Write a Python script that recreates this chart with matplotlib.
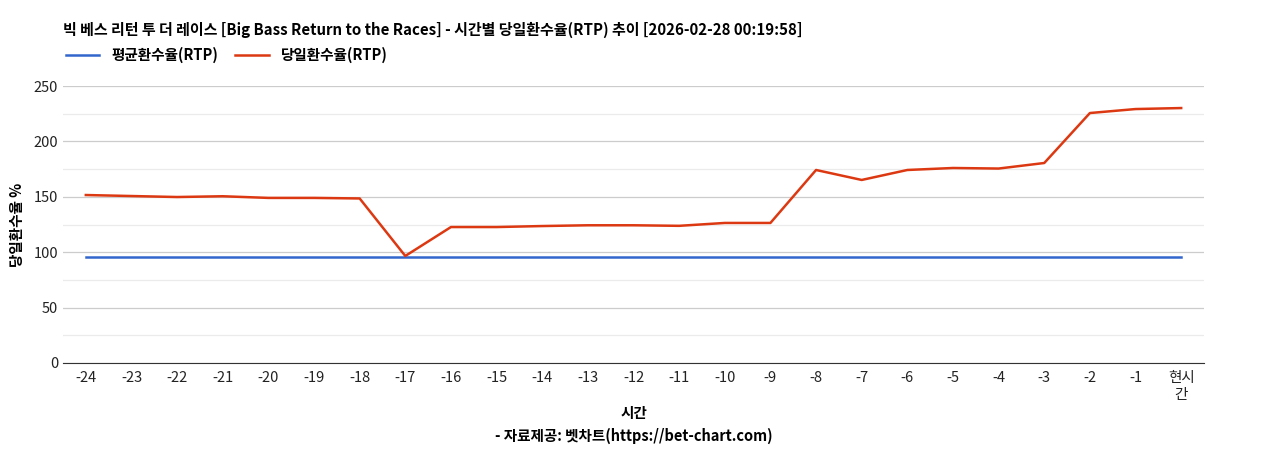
import matplotlib
matplotlib.use("Agg")
import matplotlib.pyplot as plt
from matplotlib.ticker import MultipleLocator

plt.rcParams['font.family'] = ['Noto Sans CJK KR', 'DejaVu Sans']

TITLE = "빅 베스 리턴 투 더 레이스 [Big Bass Return to the Races] - 시간별 당일환수율(RTP) 추이 [2026-02-28 00:19:58]"
hours = ["-24", "-23", "-22", "-21", "-20", "-19", "-18", "-17", "-16", "-15", "-14", "-13",
         "-12", "-11", "-10", "-9", "-8", "-7", "-6", "-5", "-4", "-3", "-2", "-1", "현시\n간"]
avg_rtp = [95.7] * len(hours)
day_rtp = [151.6, 150.7, 149.8, 150.5, 149.0, 149.0, 148.5, 96.6, 122.7, 122.7, 123.6, 124.3,
           124.3, 123.8, 126.4, 126.4, 174.2, 165.2, 174.2, 176.0, 175.5, 180.5, 225.6, 229.2, 230.1]

fig = plt.figure(figsize=(12.68, 4.5), dpi=100)
ax = fig.add_axes([63 / 1268, 87 / 450, (1204 - 63) / 1268, 277 / 450])

x = range(len(hours))
ax.plot(x, avg_rtp, color="#3366cc", lw=1.8, label="평균환수율(RTP)")
ax.plot(x, day_rtp, color="#dc3912", lw=1.8, label="당일환수율(RTP)")

ax.set_xlim(-0.5, len(hours) - 0.5)
ax.set_ylim(0, 250)
ax.yaxis.set_major_locator(MultipleLocator(50))
ax.yaxis.set_minor_locator(MultipleLocator(25))
ax.grid(axis="y", which="major", color="#cccccc", lw=0.9)
ax.grid(axis="y", which="minor", color="#ebebeb", lw=0.9)
ax.set_axisbelow(True)
ax.set_xticks(list(x))
ax.set_xticklabels(hours, fontsize=10.5, color="#222222")
ax.tick_params(axis="y", labelsize=10.5, colors="#222222", length=0, which="both")
ax.tick_params(axis="x", length=0, pad=6)
for s in ["top", "right", "left"]:
    ax.spines[s].set_visible(False)
ax.spines["bottom"].set_color("#333333")

ax.set_ylabel("당일환수율 %", fontsize=10.5, fontweight="bold", labelpad=6)
fig.text(0.5, 1 - 413 / 450, "시간", ha="center", va="center", fontsize=10.5, fontweight="bold")
fig.text(0.5, 1 - 436 / 450, "- 자료제공: 벳차트(https://bet-chart.com)", ha="center", va="center",
         fontsize=10.5, fontweight="bold")
fig.text(63 / 1268, 1 - 30 / 450, TITLE, ha="left", va="center", fontsize=10.8, fontweight="bold")
fig.legend(loc="center left", bbox_to_anchor=(60 / 1268, 1 - 55 / 450), ncol=2, frameon=False,
           prop={"weight": "bold", "size": 10.5}, handlelength=2.3, columnspacing=1.2,
           borderaxespad=0)

fig.savefig("out.png", dpi=100)
